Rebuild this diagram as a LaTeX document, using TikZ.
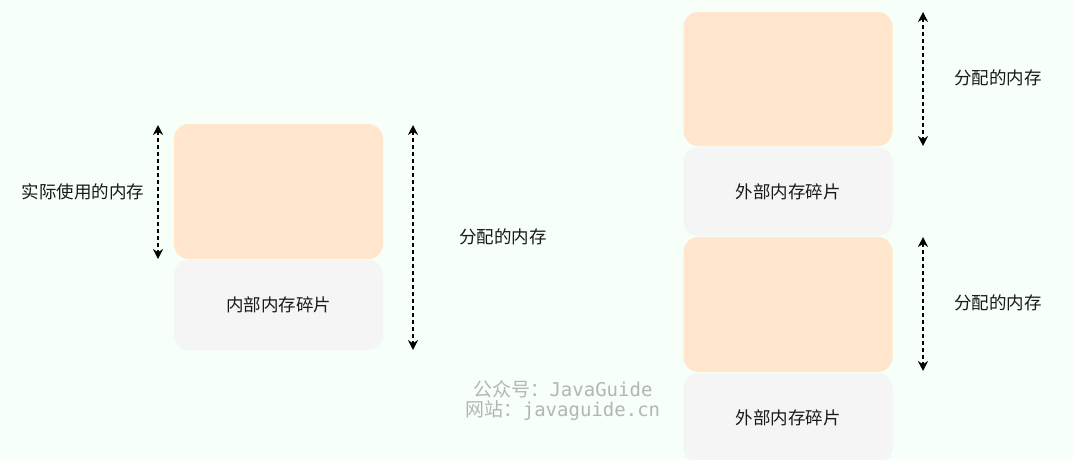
\documentclass[tikz,border=0pt]{standalone}
\usepackage{fontspec}
\usetikzlibrary{arrows.meta}
\newfontfamily\cjk{Noto Sans CJK SC}
\newfontfamily\wmmono{DejaVu Sans Mono}
\definecolor{bgmint}{HTML}{F6FFF8}
\definecolor{usedfill}{HTML}{FFE6CC}
\definecolor{fragfill}{HTML}{F5F5F5}
\definecolor{marktext}{HTML}{B5B5B5}
\tikzset{
  membox/.style={fill=usedfill, rounded corners=15pt, inner sep=0pt, minimum width=209pt},
  fragbox/.style={fill=fragfill, rounded corners=15pt, inner sep=0pt, minimum width=209pt,
    font=\cjk\fontsize{17.5}{20}\selectfont, text=black!90},
  memlabel/.style={font=\cjk\fontsize{17.5}{20}\selectfont, text=black!90},
  spanarrow/.style={{Stealth[length=10pt,width=10pt]}-{Stealth[length=10pt,width=10pt]},
    line width=1.6pt, dash pattern=on 4pt off 3pt},
}
\begin{document}
\begin{tikzpicture}[x=1pt,y=-1pt]
\fill[bgmint] (0,0) rectangle (1073,459);
\useasboundingbox (0,0) rectangle (1073,459);
% internal fragmentation
\node[membox, minimum height=135pt] (used) at (278.5,191.5) {};
\node[fragbox, minimum height=90pt] (intfrag) at (278.5,305) {内部内存碎片};
\coordinate (usedtop) at (158,125);
\coordinate (usedbot) at (158,259);
\draw[spanarrow] (usedtop) -- (usedbot);
\node[memlabel] (usedlbl) at (83,192) {实际使用的内存};
\coordinate (alloctop) at (413,125);
\coordinate (allocbot) at (413,350);
\draw[spanarrow] (alloctop) -- (allocbot);
\node[memlabel] (alloclbl) at (503,237) {分配的内存};
% external fragmentation
\node[membox, minimum height=134pt] (blocka) at (788,79) {};
\node[fragbox, minimum height=89pt] (extfraga) at (788,191.5) {外部内存碎片};
\node[membox, minimum height=135pt] (blockb) at (788,304.5) {};
\node[fragbox, minimum height=90pt] (extfragb) at (788,418) {外部内存碎片};
\coordinate (atop) at (923,12);
\coordinate (abot) at (923,146);
\draw[spanarrow] (atop) -- (abot);
\node[memlabel] (alblA) at (998,78) {分配的内存};
\coordinate (btop) at (923,237);
\coordinate (bbot) at (923,371);
\draw[spanarrow] (btop) -- (bbot);
\node[memlabel] (alblB) at (998,303) {分配的内存};
% watermark
\node[text=marktext, font=\fontsize{19}{22}\selectfont] (markA) at (563,389) {{\cjk 公众号：}{\wmmono JavaGuide}};
\node[text=marktext, font=\fontsize{19}{22}\selectfont] (markB) at (563,411) {{\cjk 网站：}{\wmmono javaguide.cn}};
\end{tikzpicture}
\end{document}
